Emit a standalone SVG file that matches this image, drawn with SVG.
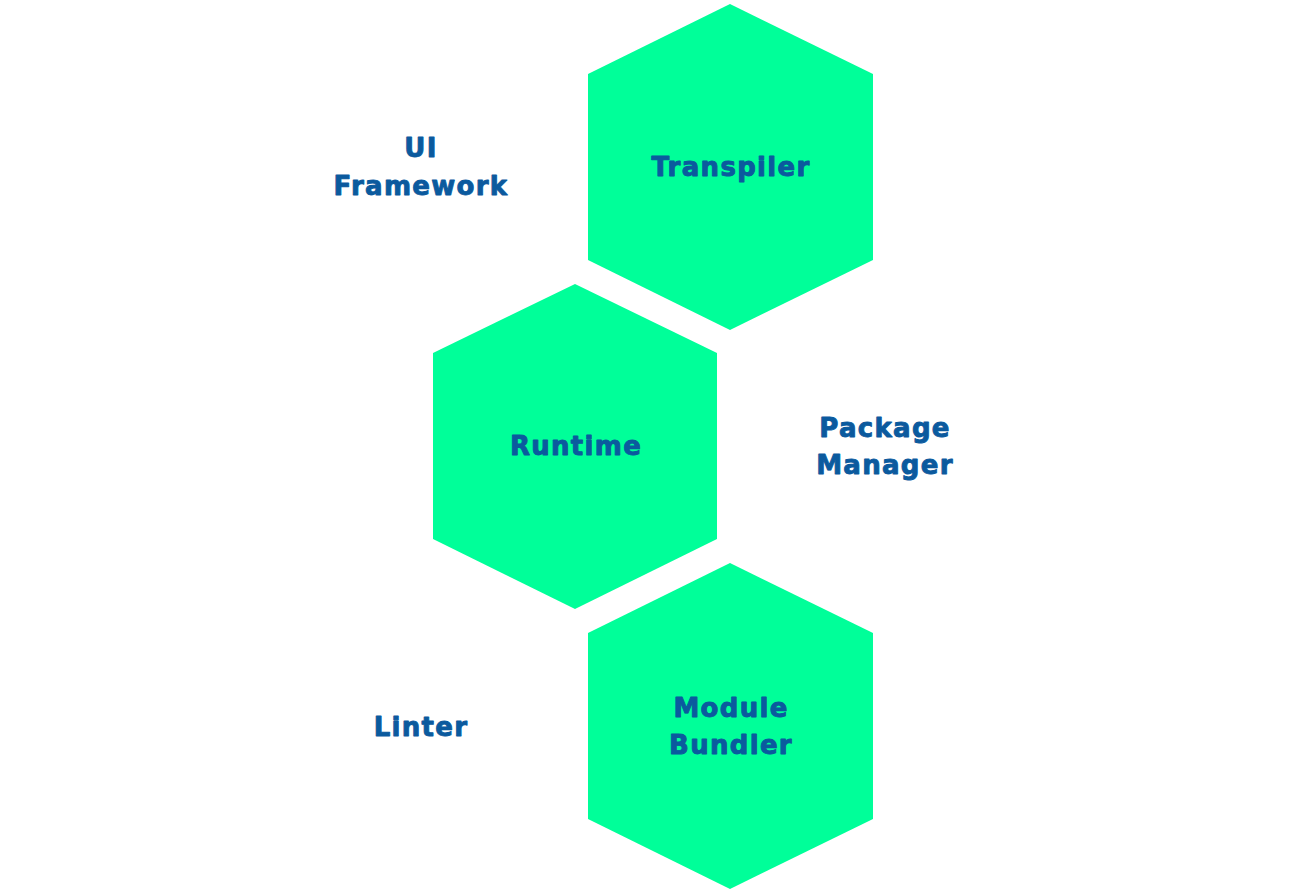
<svg xmlns="http://www.w3.org/2000/svg" width="1314" height="893" viewBox="0 0 1314 893">
<style>
.hex{fill:#00FF99;stroke:none}
.t{font-family:"DejaVu Sans",Verdana,sans-serif;font-weight:bold;font-size:26px;fill:#0B5A9E;stroke:#0B5A9E;stroke-width:0.9px;stroke-linejoin:round;text-anchor:middle;letter-spacing:1.3px}
</style>
<rect width="1314" height="893" fill="#FFFFFF"/>
<g id="connectors"></g>
<g id="node-transpiler">
<polygon class="hex" points="730,4 873,74 873,260 730,330 588,260 588,74"/>
<text class="t" x="731" y="176">Transpiler</text>
</g>
<g id="node-runtime">
<polygon class="hex" points="575,284 717,353 717,539 575,609 433,539 433,353"/>
<text class="t" x="576" y="455">Runtime</text>
</g>
<g id="node-bundler">
<polygon class="hex" points="730,563 873,633 873,819 730,889 588,819 588,633"/>
<text class="t" x="731" y="717">Module</text>
<text class="t" x="731" y="754">Bundler</text>
</g>
<g id="label-ui">
<text class="t" x="421" y="157">UI</text>
<text class="t" x="421" y="195">Framework</text>
</g>
<g id="label-package">
<text class="t" x="885" y="437">Package</text>
<text class="t" x="885" y="474">Manager</text>
</g>
<g id="label-linter">
<text class="t" x="421" y="736">Linter</text>
</g>
</svg>
